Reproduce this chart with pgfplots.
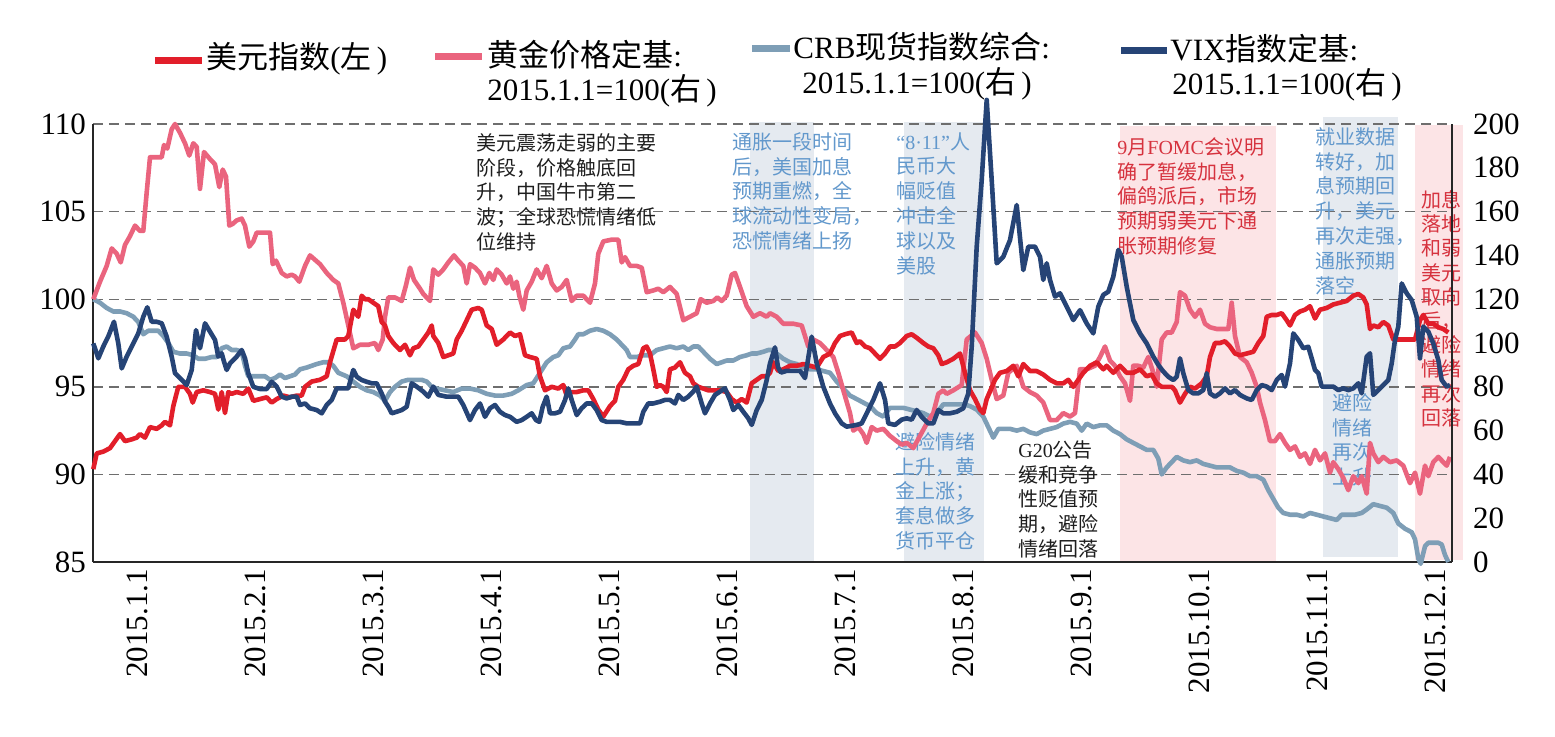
\documentclass[border=0pt]{standalone}
\usepackage{fontspec}
\setmainfont{Liberation Serif}
\newfontfamily\cjk{Noto Sans CJK SC}
\usepackage{pgfplots}
\usepackage{pgfplotstable}
\pgfplotsset{compat=1.18}

\definecolor{usd}{RGB}{226,30,42}
\definecolor{gold}{RGB}{234,100,126}
\definecolor{crb}{RGB}{126,158,182}
\definecolor{vix}{RGB}{38,68,118}
\definecolor{shb}{RGB}{229,234,240}
\definecolor{shp}{RGB}{252,228,230}
\definecolor{tblue}{RGB}{98,152,204}
\definecolor{tred}{RGB}{214,50,62}
\definecolor{tblack}{RGB}{30,30,30}
\definecolor{gridc}{RGB}{110,110,110}

\newcommand\leg{\fontsize{15.5}{18}\selectfont}
\newcommand\tk{\fontsize{15.5}{18}\selectfont}
\newcommand\ann{\fontsize{10}{12.4}\selectfont\cjk}

% x = horizontal position along the time axis, y = value
\pgfplotstableread{
x y
93.3 90.3
96.7 91.2
103.3 91.3
110 91.5
115 91.9
120 92.3
125 91.9
131.7 92.0
136.7 92.1
140 92.3
145 92.1
150 92.7
156.7 92.6
161.7 92.8
165 93.0
170 92.8
173.3 93.9
178.3 95.0
185 95.0
190 94.6
192.7 94.1
196.7 94.7
203.3 94.8
210 94.7
215 94.6
218.3 93.7
221.7 94.7
225 93.5
228.3 94.7
231.7 94.6
236.7 94.7
243.3 94.6
248.3 94.9
253.3 94.2
260 94.3
266.7 94.4
271.7 94.1
276.7 94.3
283.3 94.5
290 94.4
296.7 94.5
301.7 94.5
305 95.0
311.7 95.3
320 95.4
326.7 95.6
330 96.4
336.7 97.7
345 97.7
348.3 97.9
353.3 99.4
358.3 99.0
361.7 100.2
365 100.0
368.3 100.0
373.3 99.8
378.3 99.6
381.7 98.7
385 98.5
388.3 97.9
393.3 97.5
400 97.1
405 97.4
410 96.8
413.3 97.2
418.3 97.3
423.3 97.7
428.3 98.1
431.7 98.5
433.3 97.9
438.3 97.5
443.3 96.7
448.3 96.8
453.3 96.9
456.7 97.7
461.7 98.2
466.7 98.8
471.7 99.4
478.3 99.5
481.7 99.4
486.7 98.5
491.7 98.3
496.7 97.4
503.3 97.7
510 98.1
515 97.9
520 98.0
525 96.8
530 96.7
536.7 96.6
540 95.6
545 94.8
551.7 95.0
558.3 94.9
563.3 95.1
566.7 94.5
571.7 94.7
576.7 94.7
583.3 94.8
588.3 94.8
593.3 94.3
598.3 93.7
603.3 93.3
610 93.9
615 94.2
618.3 95.0
623.3 95.4
628.3 96.0
633.3 96.2
638.3 96.3
643.3 97.2
646.7 97.3
650 96.9
653.3 96.0
656.7 95.0
660 95.1
663.3 95.0
666.7 94.7
670 96.0
675 96.1
680 96.4
685 95.8
690 95.6
693.3 95.2
698.3 95.0
703.3 94.9
708.3 94.8
715 94.8
720 94.8
726.7 94.7
731.7 94.3
736.7 94.1
741.7 94.3
746.7 94.1
751.7 95.2
756.7 95.4
761.7 95.6
766.7 95.6
770 95.8
773.3 96.4
778.3 95.9
783.3 96.0
790 96.2
796.7 96.2
803.3 96.3
810 96.2
816.7 96.1
823.3 96.7
830 96.9
835 97.5
840 97.9
845 98.0
851.7 98.1
856.7 97.5
860 97.6
865 97.3
870 97.2
875 96.9
880 96.6
885 96.9
890 97.3
895 97.3
900 97.5
906.7 97.9
911.7 98.0
916.7 97.8
923.3 97.5
928.3 97.3
933.3 97.2
938.3 96.8
941.7 96.3
946.7 96.4
953.3 96.6
960 96.9
965 95.8
970 94.8
975 94.3
980 93.7
983.3 93.5
986.7 94.3
995 95.4
1000 95.8
1006.7 95.9
1013.3 96.2
1018.3 95.6
1023.3 96.3
1030 95.9
1036.7 95.9
1043.3 95.7
1050 95.4
1056.7 95.2
1063.3 95.2
1068.3 95.4
1073.3 95.0
1078.3 95.4
1083.3 95.8
1090 96.2
1096.7 96.4
1103.3 96.0
1106.7 96.2
1113.3 95.8
1120 96.2
1126.7 95.8
1133.3 95.8
1140 96.0
1146.7 95.6
1151.7 95.7
1156.7 95.2
1161.7 95.0
1166.7 95.0
1171.7 95.0
1175 94.8
1180 94.1
1185 94.6
1190 95.0
1195 94.9
1201.7 95.2
1206.7 95.6
1210 96.7
1215 97.5
1220 97.5
1225 97.6
1230 97.3
1235 96.9
1240 96.8
1246.7 96.9
1253.3 97.0
1258.3 97.5
1263.3 97.9
1266.7 99.0
1271.7 99.1
1276.7 99.1
1281.7 99.2
1286.7 98.8
1290 98.5
1295 99.1
1300 99.3
1305 99.4
1310 99.6
1315 98.9
1320 99.4
1326.7 99.5
1333.3 99.7
1340 99.8
1346.7 99.9
1353.3 100.2
1358.3 100.3
1363.3 100.1
1366.7 99.7
1370 98.3
1373.3 98.5
1378.3 98.4
1383.3 98.7
1388.3 98.5
1393.3 97.7
1400 97.7
1406.7 97.7
1415 97.7
1420 98.8
1423.3 99.1
1428.3 98.6
1433.3 98.6
1438.3 98.4
1443.3 98.3
1448.3 98.1
}\usddata

\pgfplotstableread{
x y
93.3 100.0
100 101.0
106.7 101.9
111.7 102.9
116.7 102.6
120.7 102.1
125 103.1
130 103.6
135 104.2
140 103.9
143.3 103.9
146.7 106.1
150 108.1
161.7 108.1
164 108.8
167.3 108.6
171.7 109.7
175 110.0
180 109.5
185 108.9
189.3 108.2
193.3 108.9
196.7 108.7
200 106.3
204 108.4
210 108.0
215 107.7
219.3 106.4
222.7 107.4
226 107.0
229.3 104.2
232.7 104.3
236.7 104.5
241.7 104.6
245 104.2
249.3 103.0
253.3 103.3
256.7 103.8
270 103.8
272.7 102.0
276 102.2
281.7 101.5
286.7 101.3
291.7 101.4
295 101.3
299.3 101.0
305 101.9
310 102.5
320 102.0
326.7 101.5
333.3 101.1
338.3 100.9
343.3 99.8
348.3 98.5
353.3 97.2
360 97.4
368.3 97.4
375 97.5
378.3 97.1
382.7 97.7
385 99.0
388.3 100.1
395 100.1
401.7 99.9
406 100.8
410 101.8
414 101.1
420 100.6
423.3 100.3
430 99.9
433.3 101.7
438.3 101.4
443.3 101.7
448.3 102.1
454 102.5
458.3 102.2
463.3 101.9
466.7 100.9
470 102.0
475 101.8
480 101.5
485 100.9
489.3 101.5
493.3 101.1
496.7 101.7
501.7 101.4
506.7 100.9
510 101.3
513.3 100.6
516.7 101.0
519.3 100.2
523.3 99.4
526.7 100.5
531.7 101.0
536.7 101.7
541.7 101.2
546.7 101.9
551.7 100.9
556.7 100.5
561.7 100.7
566.7 101.1
571.7 99.9
576.7 100.2
583.3 100.2
590 99.8
595 100.9
598.3 102.6
603.3 103.3
611.7 103.4
618.3 103.4
621.7 102.1
625 102.4
630 101.9
636.7 101.9
641.7 101.8
646.7 100.4
653.3 100.5
658.3 100.6
663.3 100.4
670 100.7
676.7 100.3
683.3 98.8
690 99.0
696.7 99.2
700.7 100.0
706.7 99.8
713.3 99.9
717.3 100.1
721.7 99.9
726.7 100.2
731.7 101.4
735 101.5
740 100.7
746.7 99.6
753.3 99.0
760 99.2
766.7 99.0
770 99.2
776.7 99.0
783.3 98.6
793.3 98.6
801.7 98.5
805 97.9
808.3 97.3
813.3 97.7
820 97.5
826.7 97.1
833.3 96.7
838.3 95.8
843.3 94.8
850 93.5
853.3 92.5
858.3 92.7
863.3 92.3
866.7 91.8
871.7 92.7
876.7 92.5
883.3 92.6
890 92.2
896.7 91.9
901.7 91.7
906.7 91.8
913.3 91.5
920 92.2
926.7 92.9
933.3 93.5
938.3 94.6
943.3 94.8
946.7 94.6
953.3 94.8
961.7 95.1
966.7 97.7
975 98.1
981.7 97.5
986.7 96.6
991.7 95.4
996.7 94.3
1003.3 94.5
1008.3 95.8
1016.7 96.2
1023.3 95.0
1030 94.7
1036.7 94.5
1043.3 94.1
1050 93.1
1056.7 93.1
1063.3 93.5
1070 93.3
1075 93.5
1080 96.0
1086.7 96.0
1095 96.2
1100 96.7
1105 97.3
1110 96.5
1115 96.2
1120 95.6
1125 95.2
1130 94.2
1133.3 96.2
1138.3 96.2
1143.3 96.1
1148.3 96.7
1153.3 95.8
1156.7 95.0
1161.7 97.7
1166.7 98.1
1171.7 98.1
1176.7 98.7
1180 100.4
1185 100.2
1190 99.4
1195 99.0
1200 99.4
1205 98.6
1210 98.4
1216.7 98.3
1223.3 98.3
1228.3 98.3
1231.7 99.8
1235 97.9
1240 96.7
1246.7 96.4
1251.7 95.8
1256.7 95.0
1260 94.1
1265 93.1
1270 91.9
1275 91.9
1280 92.3
1285 91.8
1290 91.4
1295 91.6
1300 91.0
1305 91.2
1310 90.6
1315 91.4
1320 90.8
1325 91.2
1330 90.1
1333.3 90.7
1338.3 90.3
1343.3 89.8
1348.3 89.1
1353.3 89.9
1358.3 89.5
1361.7 89.9
1366.7 88.9
1370 91.8
1373.3 91.2
1378.3 90.7
1383.3 91.0
1390 90.7
1396.7 90.8
1403.3 90.5
1410 89.5
1415 90.1
1420 88.9
1425 90.5
1428.3 89.9
1433.3 90.7
1438.3 91.0
1443.3 90.7
1446.7 90.5
1450 91.0
}\golddata

\pgfplotstableread{
x y
93.3 100.0
100 99.8
106.7 99.5
113.3 99.3
120 99.3
126.7 99.2
133.3 99.0
138.3 98.7
143.3 98.0
148.3 98.2
153.3 98.2
158.3 98.2
163.3 97.9
168.3 97.5
173.3 97.0
180 96.9
186.7 96.9
193.3 96.8
198.3 96.6
205 96.6
211.7 96.7
216.7 96.7
221.7 97.2
226.7 97.3
231.7 97.1
236.7 97.1
241.7 97.0
245 96.2
248.3 95.6
253.3 95.6
260 95.6
265 95.6
270 95.4
275 95.5
280 95.7
285 95.5
290 95.6
295 95.7
300 96.0
306.7 96.1
311.7 96.2
316.7 96.3
323.3 96.4
328.3 96.4
333.3 96.2
338.3 95.8
346.7 95.6
353.3 95.3
360 95.0
366.7 94.8
373.3 94.7
380 94.5
385 94.2
390 94.7
395 95.0
401.7 95.3
408.3 95.4
415 95.4
421.7 95.4
426.7 95.3
431.7 95.0
436.7 94.9
445 94.8
453.3 94.7
461.7 94.9
470 94.9
478.3 94.8
486.7 94.6
495 94.5
503.3 94.5
511.7 94.6
518.3 94.8
526.7 95.1
533.3 95.2
540 95.8
546.7 96.4
553.3 96.7
558.3 96.8
563.3 97.2
570 97.3
575 97.7
578.3 98.0
583.3 98.0
590 98.2
596.7 98.3
603.3 98.2
610 98.0
616.7 97.7
621.7 97.4
626.7 97.1
630 96.7
636.7 96.7
643.3 96.8
650 96.8
656.7 97.1
663.3 97.2
670 97.3
676.7 97.2
683.3 97.3
688.3 97.1
693.3 97.3
698.3 97.3
703.3 97.0
710 96.6
716.7 96.3
721.7 96.4
726.7 96.5
733.3 96.5
740 96.7
746.7 96.8
751.7 96.9
756.7 96.9
763.3 97.0
768.3 97.1
773.3 97.1
776.7 96.9
783.3 96.6
790 96.4
796.7 96.3
803.3 96.1
810 96.0
816.7 96.0
823.3 95.9
830 95.8
836.7 95.3
843.3 94.9
850 94.5
856.7 94.3
863.3 94.1
870 93.9
876.7 93.5
883.3 93.3
890 93.8
896.7 93.8
903.3 93.8
910 93.7
916.7 93.6
923.3 93.5
930 93.3
936.7 93.5
943.3 94.0
950 94.0
956.7 94.0
963.3 94.0
970 93.9
976.7 93.7
983.3 93.3
988.3 92.7
993.3 92.1
998.3 92.6
1003.3 92.6
1010 92.6
1016.7 92.5
1023.3 92.6
1030 92.4
1036.7 92.3
1043.3 92.5
1050 92.6
1056.7 92.7
1063.3 92.9
1070 93.0
1076.7 92.9
1081.7 92.5
1086.7 92.9
1093.3 92.7
1100 92.8
1106.7 92.8
1113.3 92.5
1120 92.3
1126.7 92.0
1133.3 91.8
1140 91.6
1146.7 91.4
1153.3 91.4
1158.3 90.9
1161.7 90.0
1166.7 90.4
1171.7 90.7
1176.7 91.0
1183.3 90.8
1190 90.7
1196.7 90.8
1203.3 90.6
1210 90.5
1216.7 90.4
1223.3 90.4
1230 90.4
1236.7 90.2
1243.3 90.1
1250 89.9
1256.7 89.9
1263.3 89.7
1268.3 89.1
1273.3 88.6
1278.3 88.1
1283.3 87.8
1290 87.7
1296.7 87.7
1303.3 87.6
1310 87.8
1316.7 87.7
1323.3 87.6
1330 87.5
1336.7 87.4
1341.7 87.7
1348.3 87.7
1355 87.7
1361.7 87.8
1366.7 88.0
1373.3 88.3
1380 88.2
1386.7 88.1
1393.3 87.8
1398.3 87.2
1405 86.9
1411.7 86.7
1415 86.3
1418.3 85.2
1420.7 84.9
1425 85.9
1428.3 86.1
1433.3 86.1
1438.3 86.1
1441.7 86.0
1445 85.4
1448.3 85.0
}\crbdata

\pgfplotstableread{
x y
93.3 99.8
98.3 93.0
103.3 98.4
108.3 103.0
114 109.7
118.3 99.8
121.7 88.4
126.7 93.8
131.7 98.4
138.3 104.4
143.3 112.0
147.3 116.3
151.7 109.7
156.7 109.7
161.7 109.0
166.7 102.9
171.7 93.8
175 86.2
180 84.0
186.7 80.8
191.7 87.7
196 105.9
200 97.6
205 109.0
210 105.2
215 101.4
218.3 93.8
221.7 95.3
224 91.5
226.7 87.7
230 90.7
236.7 93.8
241.7 96.8
245 93.0
248.3 86.2
253.3 80.0
260 79.0
266.7 79.0
271.7 82.3
276.7 80.1
281.7 75.5
286.7 74.7
291.7 75.5
296.7 75.5
300 71.7
305 72.4
310 70.2
316.7 69.4
321.7 67.9
326.7 71.7
331.7 74.0
336.7 79.3
343.3 79.3
348.3 79.3
353.3 87.7
356.7 84.6
361.7 83.1
366.7 82.3
371.7 81.6
376.7 81.6
381.7 77.0
385 73.2
388.3 70.9
391.7 67.9
396.7 68.6
401.7 69.4
406.7 70.9
411.7 81.6
416.7 80.1
423.3 77.8
428.3 75.5
433.3 80.1
438.3 76.3
446.7 75.5
453.3 75.5
458.3 75.5
463.3 71.7
470 64.8
475 69.4
480 72.4
485 66.3
490 70.2
495 71.7
500 68.6
505 67.1
510 66.3
516.7 64.0
521.7 64.8
526.7 66.3
531.7 67.9
536 64.8
539.3 64.0
542.7 70.9
546.7 75.5
550 67.9
555 67.9
560 68.6
565 73.9
568.3 79.3
571.7 74.0
576.7 67.1
581.7 70.2
586.7 72.4
591.7 72.4
596.7 69.4
601.7 64.8
606.7 64.0
613.3 64.0
620 64.0
626.7 63.3
633.3 63.3
640 63.3
643.3 68.6
648.3 72.4
653.3 72.4
660 73.2
665 74.0
670 74.0
675 72.4
678.3 76.3
683.3 74.0
688.3 75.5
693.3 77.8
696.7 80.1
701.7 72.4
705 67.9
710 72.4
715 76.3
720 77.8
725 79.3
730 74.0
733.3 69.4
738.3 71.7
743.3 68.6
748.3 65.6
751.7 62.6
756.7 69.4
761.7 74.0
766.7 83.1
770 90.7
775 98.0
778 89.0
781 86.5
786.7 87.3
793.3 87.3
800 87.3
805 84.0
811.7 102.9
816.7 90.7
823.3 80.0
830 72.4
835 67.9
841.7 63.3
846.7 61.8
856.7 62.6
861.7 63.3
868.3 69.4
873.3 74.0
880 81.6
885 74.0
888.3 63.3
895 62.6
901.7 65.0
906.7 65.6
911.7 65.0
916.7 69.4
921.7 66.3
928.3 63.3
933.3 63.3
938.3 69.4
943.3 67.9
950 67.9
956.7 68.6
963.3 70.2
968.3 77.0
971.7 98.3
976.7 144.0
981.7 174.4
986.7 211.0
991.7 174.4
996.7 136.4
1003.3 139.4
1010 147.0
1016.7 163.0
1023.3 133.3
1028.3 144.0
1035 144.0
1040 139.4
1043.3 128.8
1046.7 136.4
1050 128.8
1055 121.2
1060 122.7
1066.7 116.6
1073.3 110.5
1080 115.0
1086.7 108.9
1093.3 104.4
1098.3 116.6
1103.3 122.0
1108.3 123.4
1113.3 130.3
1118.3 142.5
1121.7 139.4
1126.7 125.7
1133.3 110.5
1140 104.4
1146.7 99.8
1153.3 93.8
1158.3 90.0
1163.3 87.0
1168.3 84.6
1173.3 83.1
1176.7 84.6
1180 93.0
1183.3 86.2
1188.3 78.5
1193.3 77.0
1198.3 77.0
1203.3 78.5
1206.7 86.2
1210 77.0
1215 75.5
1220 77.0
1225 79.3
1230 77.0
1235 78.5
1240 76.3
1246.7 74.7
1251.7 74.0
1256.7 78.5
1261.7 80.8
1266.7 80.1
1271.7 78.5
1276.7 83.1
1281.7 85.4
1285 80.1
1290 90.7
1293.3 104.4
1298.3 101.4
1303.3 97.6
1308.3 98.3
1311.7 93.0
1315 87.7
1318.3 86.2
1321.7 80.1
1326.7 80.1
1333.3 80.1
1338.3 78.5
1343.3 79.3
1348.3 78.5
1353.3 79.3
1358.3 81.6
1361.7 77.0
1366.7 93.8
1370 95.3
1373.3 76.3
1378.3 78.5
1383.3 80.8
1388.3 83.1
1391.7 90.7
1395 101.4
1398.3 107.5
1401.7 127.2
1406.7 122.7
1411.7 119.6
1416.7 112.0
1420 93.0
1423.3 107.5
1428.3 105.2
1433.3 99.8
1438.3 92.2
1441.7 83.1
1446.7 80.1
1450 80.8
}\vixdata

\pgfplotsset{base/.style={at={(0,0)}, anchor=south west, scale only axis,
  width=679.5pt, height=219pt, xmin=93, xmax=1452, clip=false}}

\begin{document}
\begin{tikzpicture}
% ---------- background: shading, grid, annotations, legend ----------
\begin{axis}[base, ymin=-562, ymax=-124, hide axis]
\fill[shb] (axis cs:750,-122) rectangle (axis cs:814,-562);
\fill[shb] (axis cs:904,-122) rectangle (axis cs:984,-562);
\fill[shp] (axis cs:1120,-126) rectangle (axis cs:1276,-562);
\fill[shb] (axis cs:1323,-117) rectangle (axis cs:1398,-557);
\fill[shp] (axis cs:1415,-125) rectangle (axis cs:1463,-560);
\pgfplotsinvokeforeach{124,211.6,299.2,386.8,474.4}{
  \draw[gridc, line width=0.7pt, dash pattern=on 5pt off 3pt] (axis cs:93,-#1) -- (axis cs:1452,-#1);
}
\node[anchor=north west, align=left, inner sep=0pt, font=\ann, text=tblack] at (axis cs:476,-133)
  {美元震荡走弱的主要\\阶段，价格触底回\\升，中国牛市第二\\波；全球恐慌情绪低\\位维持};
\node[anchor=north west, align=left, inner sep=0pt, font=\ann, text=tblue] at (axis cs:732,-132)
  {通胀一段时间\\后，美国加息\\预期重燃，全\\球流动性变局，\\恐慌情绪上扬};
\node[anchor=north west, align=left, inner sep=0pt, font=\ann, text=tblue] at (axis cs:896,-132)
  {{\rmfamily “8·11”}人\\民币大\\幅贬值\\冲击全\\球以及\\美股};
\node[anchor=north west, align=left, inner sep=0pt, font=\ann, text=tblue] at (axis cs:895,-432)
  {避险情绪\\上升，黄\\金上涨；\\套息做多\\货币平仓};
\node[anchor=north west, align=left, inner sep=0pt, font=\ann, text=tblack] at (axis cs:1018,-440)
  {{\rmfamily G20}公告\\缓和竞争\\性贬值预\\期，避险\\情绪回落};
\node[anchor=north west, align=left, inner sep=0pt, font=\ann, text=tred] at (axis cs:1117,-137)
  {{\rmfamily 9}月{\rmfamily FOMC}会议明\\确了暂缓加息，\\偏鸽派后，市场\\预期弱美元下通\\胀预期修复};
\node[anchor=north west, align=left, inner sep=0pt, font=\ann, text=tblue] at (axis cs:1315,-127)
  {就业数据\\转好，加\\息预期回\\升，美元\\再次走强，\\通胀预期\\落空};
\node[anchor=north west, align=left, inner sep=0pt, font=\ann, text=tblue] at (axis cs:1332,-393)
  {避险\\情绪\\再次\\上升};
\node[anchor=north west, align=left, inner sep=0pt, font=\fontsize{10}{12.1}\selectfont\cjk, text=tred] at (axis cs:1421,-190)
  {加息\\落地\\和弱\\美元\\取向\\后，\\避险\\情绪\\再次\\回落};
% legend
\draw[usd, line width=3.5pt] (axis cs:155,-60) -- (axis cs:202,-60);
\node[anchor=west, inner sep=0pt, font=\leg] at (axis cs:206,-59) {{\cjk 美元指数}({\cjk 左}\,)};
\draw[gold, line width=3.5pt] (axis cs:435,-56) -- (axis cs:482,-56);
\node[anchor=west, inner sep=0pt, font=\leg] at (axis cs:487,-55) {{\cjk 黄金价格定基}:};
\node[anchor=west, inner sep=0pt, font=\leg] at (axis cs:487,-91) {2015.1.1=100({\cjk 右}\,)};
\draw[crb, line width=3.5pt] (axis cs:752,-48) -- (axis cs:790,-48);
\node[anchor=west, inner sep=0pt, font=\leg] at (axis cs:793,-47) {CRB{\cjk 现货指数综合}:};
\node[anchor=west, inner sep=0pt, font=\leg] at (axis cs:802,-84) {2015.1.1=100({\cjk 右}\,)};
\draw[vix, line width=3.5pt] (axis cs:1121,-50) -- (axis cs:1167,-50);
\node[anchor=west, inner sep=0pt, font=\leg] at (axis cs:1170,-49) {VIX{\cjk 指数定基}:};
\node[anchor=west, inner sep=0pt, font=\leg] at (axis cs:1172,-85) {2015.1.1=100({\cjk 右}\,)};
\end{axis}

% ---------- left axis ----------
\begin{axis}[base, ymin=85, ymax=110,
  axis x line*=bottom, axis y line*=left,
  axis line style={-, line width=1.1pt, black!85},
  ytick={85,90,95,100,105,110},
  xtick={125,243,361,479,597,715,833,951,1069,1187,1305,1423},
  xticklabels={2015.1.1,2015.2.1,2015.3.1,2015.4.1,2015.5.1,2015.6.1,2015.7.1,2015.8.1,2015.9.1,2015.10.1,2015.11.1,2015.12.1},
  major tick length=0pt,
  tick label style={font=\tk},
  xticklabel style={rotate=90, anchor=east, yshift=-6pt},
  /pgf/number format/assume math mode=true]
\addplot[crb, line width=2.3pt, line join=round] table[x=x,y=y] {\crbdata};
\addplot[gold, line width=2.3pt, line join=round] table[x=x,y=y] {\golddata};
\addplot[usd, line width=2.3pt, line join=round] table[x=x,y=y] {\usddata};
\end{axis}

% ---------- right axis ----------
\begin{axis}[base, ymin=0, ymax=200,
  axis y line*=right, axis x line=none,
  axis line style={-, line width=1.1pt, black!85},
  ytick={0,20,...,200},
  major tick length=0pt,
  yticklabel style={font=\tk, xshift=7pt},
  /pgf/number format/assume math mode=true]
\addplot[vix, line width=2.3pt, line join=round] table[x=x,y=y] {\vixdata};
\end{axis}

\pgfresetboundingbox
\path[use as bounding box] (-46.5pt,-87pt) rectangle (731pt,281pt);
\end{tikzpicture}
\end{document}
